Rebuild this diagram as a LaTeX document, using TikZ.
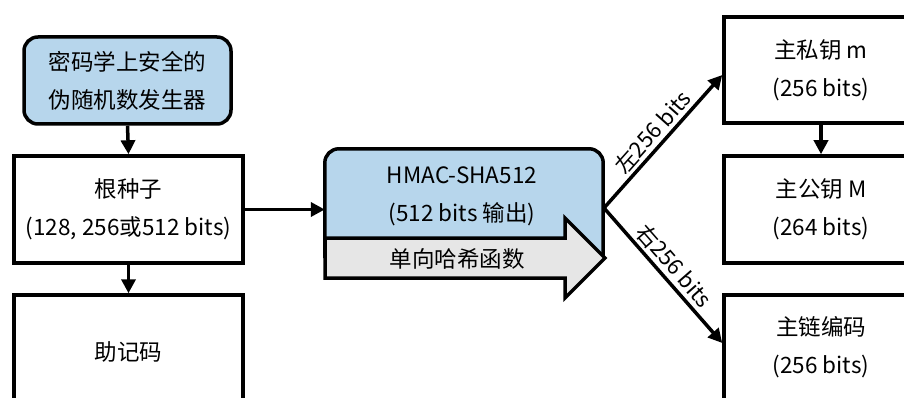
\documentclass[tikz,border=0pt]{standalone}
\usepackage{fontspec}
\setmainfont{Noto Sans CJK SC}
\usetikzlibrary{arrows.meta}
\definecolor{boxblue}{RGB}{183,214,236}
\definecolor{arrowgray}{RGB}{230,230,230}
\begin{document}
\begin{tikzpicture}[x=1pt,y=-1pt,
  txt/.style={align=center, font=\fontsize{22.5}{38}\selectfont, inner sep=0pt},
  box/.style={txt, draw=black, line width=3.5pt, fill=white},
  conn/.style={line width=3.5pt, -{Triangle[length=14pt,width=14pt]}},
  lbl/.style={font=\fontsize{22}{24}\selectfont, inner sep=3pt}
]
\clip (0,0) rectangle (904,398);
\fill[white] (0,0) rectangle (904,398);

% left column
\node[box, fill=boxblue, rounded corners=14pt, minimum width=207pt, minimum height=87pt] (prng) at (127.5,80.5) {密码学上安全的\\伪随机数发生器};
\node[box, minimum width=229pt, minimum height=107pt] (root) at (128.5,209.5) {根种子\\(128, 256或512 bits)};
\node[box, minimum width=229pt, minimum height=114pt] (mnem) at (128.5,352) {助记码};

% HMAC box
\node[inner sep=0pt, minimum width=278pt, minimum height=109pt] (hmac) at (464,203.5) {};
\draw[line width=3.5pt, fill=boxblue] (hmac.south west) [rounded corners=14pt] -- (hmac.north west) -- (hmac.north east) -- (hmac.south east);
\node[txt] (hmactext) at (462,196) {HMAC-SHA512\\(512 bits 输出)};

% one-way hash arrow
\draw[line width=3.5pt, fill=arrowgray, line join=miter] (325,238) -- (565,238) -- (565,218) -- (605,258) -- (565,298) -- (565,278) -- (325,278) -- cycle;
\node[txt] (hash) at (457,259) {单向哈希函数};

% right column
\node[box, minimum width=194pt, minimum height=106pt] (priv) at (821,70) {主私钥 m\\(256 bits)};
\node[box, minimum width=194pt, minimum height=107pt] (pub) at (821,209.5) {主公钥 M\\(264 bits)};
\node[box, minimum width=194pt, minimum height=105pt] (chain) at (821,347.5) {主链编码\\(256 bits)};

\coordinate (split) at (604,208);

% connectors
\draw[conn] (prng.south) -- (root.north);
\draw[conn] (root.south) -- (mnem.north);
\draw[conn] (root.east) -- (hmac.west |- root.east);
\draw[conn] (priv.south) -- (pub.north);
\draw[conn] (split) -- node[lbl, midway, above, sloped] {左256 bits} ([yshift=-5pt]priv.west);
\draw[conn] (split) -- node[lbl, midway, above, sloped] {右256 bits} ([yshift=4.5pt]chain.west);
\end{tikzpicture}
\end{document}
